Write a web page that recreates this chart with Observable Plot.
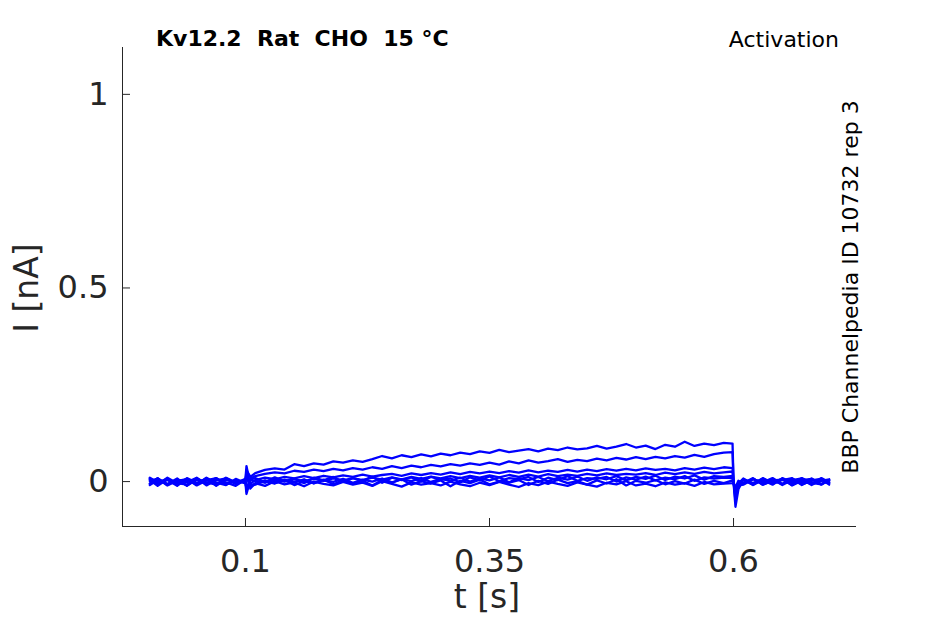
<!DOCTYPE html>
<html>
<head>
<meta charset="utf-8">
<script src="https://cdn.jsdelivr.net/npm/d3@7"></script>
<script src="https://cdn.jsdelivr.net/npm/@observablehq/plot@0.6"></script>
<style>
  html, body { margin: 0; padding: 0; background: #fff; }
  #chart { position: relative; width: 945px; height: 624px; }
</style>
</head>
<body>
<div id="chart"></div>
<script>
// time samples (s)
const t = [
  0.002, 0.01, 0.02, 0.03, 0.04, 0.05, 0.06, 0.07, 0.08, 0.09, 0.1,
  0.101, 0.105,
  0.11, 0.12, 0.13, 0.14, 0.15, 0.16, 0.17, 0.18, 0.19, 0.2,
  0.21, 0.22, 0.23, 0.24, 0.25, 0.26, 0.27, 0.28, 0.29, 0.3,
  0.31, 0.32, 0.33, 0.34, 0.35, 0.36, 0.37, 0.38, 0.39, 0.4,
  0.41, 0.42, 0.43, 0.44, 0.45, 0.46, 0.47, 0.48, 0.49, 0.5,
  0.51, 0.52, 0.53, 0.54, 0.55, 0.56, 0.57, 0.58, 0.59,
  0.599, 0.6, 0.602, 0.605,
  0.61, 0.62, 0.63, 0.64, 0.65, 0.66, 0.67, 0.68, 0.69, 0.698
];

// currents (nA), one array per sweep
const sweep1 = [
  0.006,-0.008,0.010,-0.004,0.007,-0.010,0.003,0.009,-0.006,0.002,-0.001,
  0.030,0.012,
  0.022,0.030,0.034,0.031,0.045,0.040,0.047,0.044,0.052,0.049,
  0.055,0.051,0.058,0.066,0.060,0.068,0.063,0.070,0.065,0.072,
  0.068,0.075,0.071,0.078,0.074,0.082,0.076,0.080,0.084,0.078,
  0.085,0.081,0.088,0.083,0.086,0.092,0.085,0.090,0.097,0.088,
  0.093,0.084,0.095,0.090,0.103,0.092,0.098,0.094,0.100,
  0.098,0.002,-0.030,-0.008,
  0.006,-0.004,0.008,-0.006,0.004,0.009,-0.007,0.002,0.006,-0.004
];
const sweep2 = [
  -0.005,0.009,-0.009,0.005,-0.002,0.010,-0.007,0.003,0.008,-0.006,0.002,
  -0.020,0.008,
  0.014,0.020,0.024,0.021,0.028,0.025,0.031,0.027,0.033,0.029,
  0.035,0.031,0.037,0.033,0.040,0.035,0.041,0.037,0.043,0.039,
  0.045,0.041,0.047,0.043,0.049,0.044,0.052,0.047,0.055,0.049,
  0.053,0.058,0.051,0.056,0.053,0.059,0.055,0.061,0.057,0.063,
  0.058,0.064,0.060,0.066,0.062,0.069,0.064,0.071,0.075,
  0.076,0.000,-0.050,-0.012,
  -0.006,0.007,-0.004,0.006,-0.009,0.004,0.008,-0.006,0.002,0.006
];
const sweep3 = [
  0.008,-0.006,0.004,-0.011,0.009,-0.003,0.006,-0.008,0.010,-0.002,0.004,
  0.020,-0.006,
  0.004,0.010,0.006,0.012,0.008,0.014,0.009,0.015,0.011,0.016,
  0.012,0.018,0.013,0.017,0.020,0.015,0.021,0.017,0.022,0.018,
  0.024,0.019,0.025,0.021,0.026,0.022,0.027,0.023,0.029,0.024,
  0.028,0.025,0.030,0.026,0.031,0.027,0.032,0.028,0.033,0.029,
  0.034,0.030,0.033,0.029,0.035,0.031,0.036,0.032,0.037,
  0.035,-0.002,-0.065,-0.020,
  0.004,-0.008,0.009,-0.004,0.006,-0.009,0.004,0.007,-0.006,0.002
];
const sweep4 = [
  -0.009,0.004,-0.006,0.008,-0.011,0.005,-0.004,0.009,-0.008,0.003,-0.005,
  -0.032,0.004,
  0.002,-0.003,0.005,0.000,0.006,0.001,0.007,0.002,0.008,0.003,
  0.009,0.004,0.010,0.005,0.011,0.006,0.012,0.007,0.013,0.008,
  0.014,0.009,0.015,0.010,0.016,0.011,0.017,0.012,0.018,0.013,
  0.019,0.014,0.018,0.015,0.020,0.016,0.021,0.017,0.020,0.018,
  0.022,0.017,0.023,0.019,0.024,0.020,0.025,0.021,0.024,
  0.026,0.001,-0.040,-0.010,
  -0.008,0.006,-0.002,0.009,-0.006,0.004,-0.004,0.008,-0.008,0.004
];
const sweep5 = [
  0.010,-0.002,0.007,-0.009,0.004,-0.006,0.009,-0.011,0.005,-0.004,0.007,
  0.040,-0.010,
  -0.006,0.003,-0.004,0.005,-0.002,0.006,-0.005,0.004,-0.001,0.007,
  -0.003,0.005,0.000,0.008,-0.002,0.006,0.001,0.009,-0.001,0.007,
  0.002,0.010,0.000,0.008,0.003,0.011,-0.002,0.009,0.004,0.012,
  0.001,0.010,0.005,0.013,0.002,0.011,0.006,0.014,0.003,0.012,
  0.007,0.015,0.004,0.013,0.008,0.016,0.005,0.014,0.012,
  0.015,-0.003,-0.025,-0.005,
  0.008,-0.006,0.004,-0.008,0.009,-0.002,0.006,-0.009,0.004,-0.004
];
const sweep6 = [
  -0.006,0.008,-0.010,0.002,0.006,-0.008,0.010,-0.003,-0.009,0.007,-0.004,
  -0.015,-0.012,
  -0.008,0.002,-0.005,0.004,-0.009,0.001,-0.004,0.005,-0.007,0.003,
  -0.006,0.002,-0.010,0.004,-0.003,0.006,-0.008,0.001,-0.005,0.003,
  -0.012,0.002,-0.004,0.005,-0.007,0.000,-0.003,0.004,-0.009,0.002,
  -0.006,0.005,-0.004,0.001,-0.008,0.003,-0.005,0.006,-0.010,0.002,
  -0.003,0.004,-0.007,0.001,-0.005,0.005,-0.006,0.002,-0.004,
  0.003,-0.004,-0.015,0.002,
  -0.004,0.009,-0.008,0.002,-0.006,0.008,-0.009,0.004,0.006,-0.008
];
const sweep7 = [
  0.004,-0.011,0.006,-0.004,-0.008,0.009,-0.010,0.005,-0.002,-0.011,0.005,
  0.015,-0.018,
  -0.004,-0.011,0.001,-0.007,-0.002,-0.012,0.000,-0.006,-0.010,-0.001,
  -0.008,-0.003,-0.011,0.001,-0.006,-0.013,-0.002,-0.008,-0.004,-0.010,
  0.000,-0.007,-0.012,-0.003,-0.009,-0.001,-0.008,-0.014,-0.004,-0.009,
  0.000,-0.006,-0.011,-0.002,-0.008,-0.013,-0.003,-0.007,0.001,-0.010,
  -0.005,-0.012,-0.002,-0.008,-0.004,-0.011,-0.001,-0.007,-0.005,
  -0.004,-0.001,-0.020,-0.006,
  0.006,-0.009,0.004,-0.004,0.008,-0.010,0.002,-0.006,0.009,-0.002
];
const sweep8 = [
  0.001,0.008,-0.007,0.004,-0.010,0.007,-0.002,-0.008,0.009,-0.005,0.006,
  -0.025,0.006,
  0.009,-0.002,0.011,0.001,0.008,-0.004,0.010,0.003,0.012,-0.001,
  0.009,0.002,0.013,-0.003,0.010,0.004,0.011,0.000,0.012,0.005,
  0.008,-0.002,0.011,0.003,0.013,0.001,0.009,0.006,0.012,-0.001,
  0.010,0.004,0.014,0.002,0.009,0.007,0.012,0.000,0.011,0.005,
  0.013,0.003,0.010,0.006,0.014,0.002,0.011,0.008,0.010,
  0.009,0.000,-0.035,-0.008,
  -0.005,0.007,-0.008,0.003,0.005,-0.006,0.009,-0.003,-0.007,0.004
];
const sweeps = [sweep1, sweep2, sweep3, sweep4, sweep5, sweep6, sweep7, sweep8];

const xTicks = [0.1, 0.35, 0.6];
const yTicks = [0, 0.5, 1];
const xTickLabels = ["0.1", "0.35", "0.6"];
const yTickLabels = ["0", "0.5", "1"];
const xDomain = [-0.026, 0.726];
const yDomain = [-0.116, 1.121];

const title = "Kv12.2  Rat  CHO  15 °C";
const protocol = "Activation";
const source = "BBP Channelpedia ID 10732 rep 3";
const xLabel = "t [s]";
const yLabel = "I [nA]";

const rows = [];
sweeps.forEach((s, k) => s.forEach((v, i) => rows.push({t: t[i], i: v, sweep: k})));

const ink = "#262626";
const font = "DejaVu Sans, sans-serif";

const plot = Plot.plot({
  width: 945,
  height: 624,
  marginLeft: 122,
  marginRight: 89,
  marginTop: 47,
  marginBottom: 98,
  style: {fontFamily: font, background: "#fff", overflow: "visible"},
  x: {domain: xDomain},
  y: {domain: yDomain},
  marks: [
    Plot.line(rows, {x: "t", y: "i", z: "sweep", stroke: "#0000ff", strokeWidth: 2.3, strokeLinejoin: "round"}),
    Plot.ruleX([xDomain[0]], {stroke: ink, strokeWidth: 1}),
    Plot.ruleY([yDomain[0]], {stroke: ink, strokeWidth: 1}),
    Plot.axisX(xTicks, {anchor: "bottom", tickSize: -8, tickFormat: () => "", stroke: ink, label: null}),
    Plot.axisX(xTicks, {anchor: "bottom", tickSize: 0, tickPadding: 23, tickFormat: (d) => xTickLabels[xTicks.indexOf(d)], fontSize: 32, fill: ink, label: null}),
    Plot.axisY(yTicks, {anchor: "left", tickSize: -8, tickFormat: () => "", stroke: ink, label: null}),
    Plot.axisY(yTicks, {anchor: "left", tickSize: 0, tickPadding: 14, tickFormat: (d) => yTickLabels[yTicks.indexOf(d)], fontSize: 32, fill: ink, label: null})
  ]
});

const svg = d3.select(plot);
svg.append("text").attr("x", 156).attr("y", 46).attr("text-anchor", "start")
  .attr("font-family", font).attr("font-weight", "bold").attr("font-size", 22)
  .attr("fill", "#000").text(title);
svg.append("text").attr("x", 839).attr("y", 47).attr("text-anchor", "end")
  .attr("font-family", font).attr("font-size", 22).attr("fill", "#000").text(protocol);
svg.append("text").attr("transform", "translate(858,287) rotate(-90)").attr("text-anchor", "middle")
  .attr("font-family", font).attr("font-size", 22).attr("fill", "#000").text(source);
svg.append("text").attr("transform", "translate(38,288) rotate(-90)").attr("text-anchor", "middle")
  .attr("font-family", font).attr("font-size", 33).attr("fill", ink).text(yLabel);
svg.append("text").attr("x", 487).attr("y", 608).attr("text-anchor", "middle")
  .attr("font-family", font).attr("font-size", 33).attr("fill", ink).text(xLabel);

document.getElementById("chart").appendChild(plot);
</script>
</body>
</html>
